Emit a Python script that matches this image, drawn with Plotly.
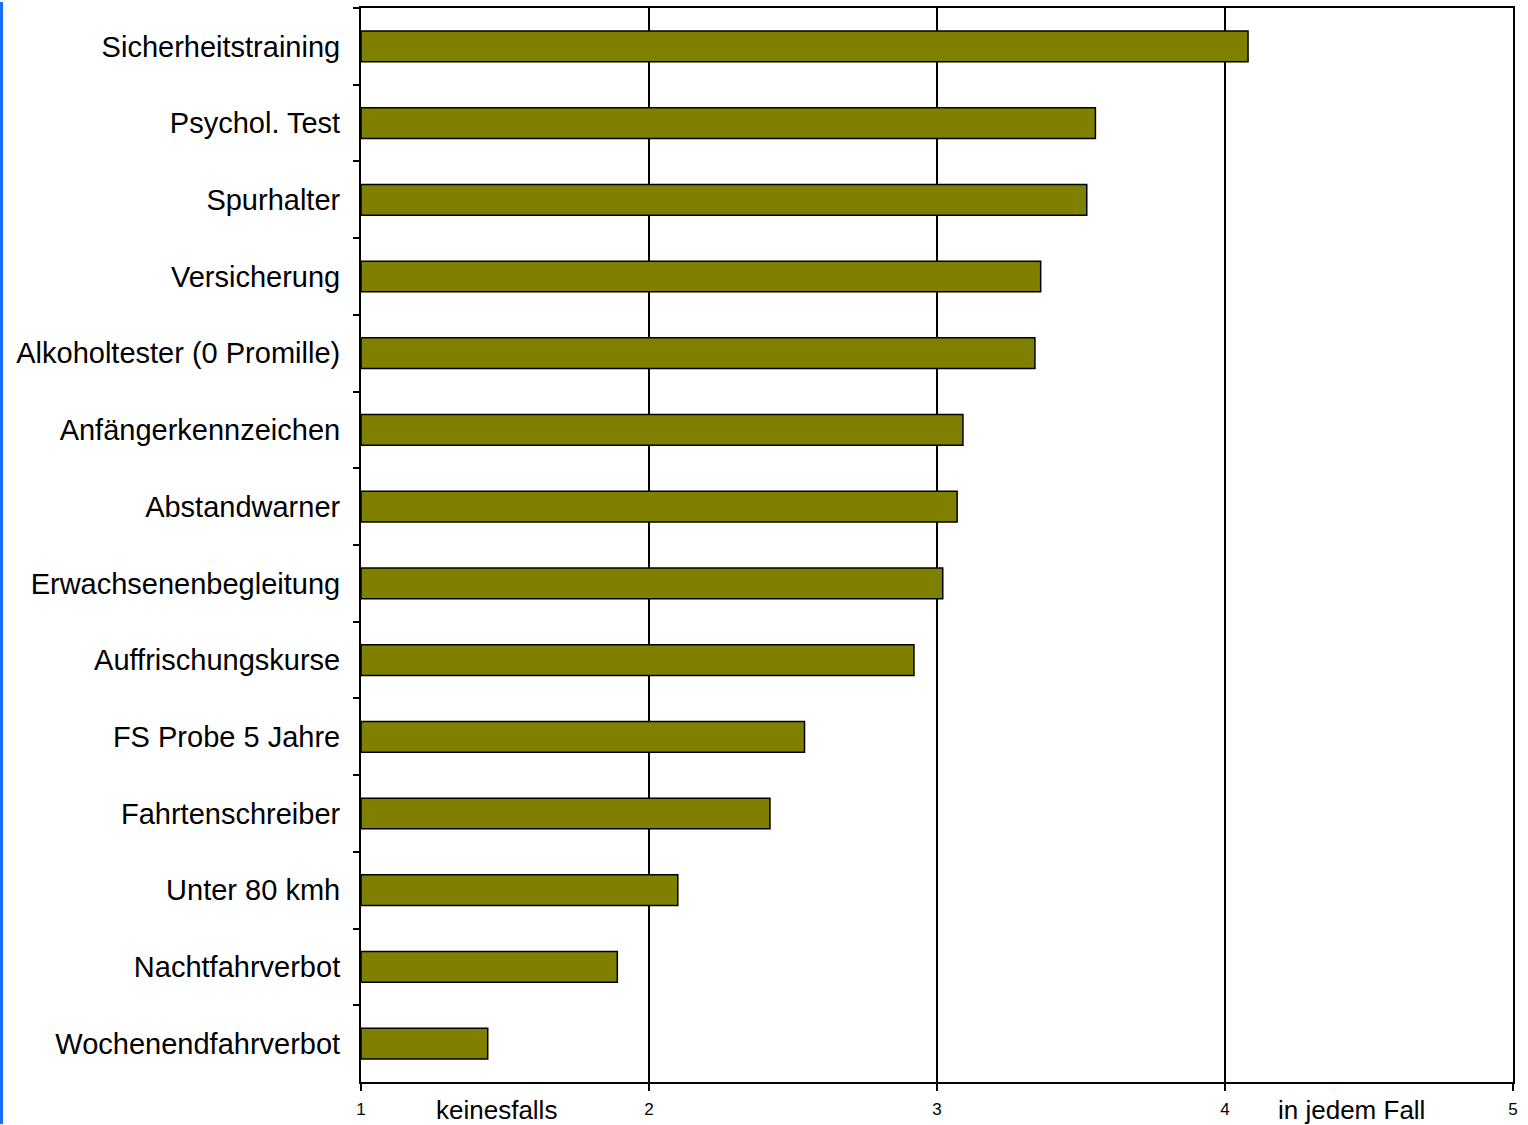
import plotly.graph_objects as go

# Zustimmung zu Maßnahmen (1 = keinesfalls, 5 = in jedem Fall)
massnahmen = [
    "Sicherheitstraining",
    "Psychol. Test",
    "Spurhalter",
    "Versicherung",
    "Alkoholtester (0 Promille)",
    "Anfängerkennzeichen",
    "Abstandwarner",
    "Erwachsenenbegleitung",
    "Auffrischungskurse",
    "FS Probe 5 Jahre",
    "Fahrtenschreiber",
    "Unter 80 kmh",
    "Nachtfahrverbot",
    "Wochenendfahrverbot",
]
mittelwerte = [4.08, 3.55, 3.52, 3.36, 3.34, 3.09, 3.07, 3.02, 2.92, 2.54, 2.42, 2.10, 1.89, 1.44]
skala_ticks = [1, 2, 3, 4, 5]
skala_enden = {"keinesfalls": 1.47, "in jedem Fall": 4.44}

W, H = 1528, 1125
L, R, T, B = 361, 15, 6, 42
FONT = "Liberation Sans, Arial, sans-serif"

fig = go.Figure()
fig.add_trace(go.Bar(
    x=[v - 1 for v in mittelwerte],
    base=1,
    y=massnahmen,
    orientation="h",
    width=0.4,
    marker=dict(color="#808000", line=dict(color="black", width=1.5)),
    hoverinfo="x+y",
))

for text, xv in skala_enden.items():
    fig.add_annotation(
        x=xv, xref="x", y=-(1111 - (H - B)) / (H - T - B), yref="paper",
        text=text, showarrow=False, yanchor="middle",
        font=dict(family=FONT, size=26, color="black"),
    )

# blue edge line at the far left of the page
pw = W - L - R
fig.add_shape(type="rect", xref="paper", yref="paper",
              x0=(0 - L) / pw, x1=(3 - L) / pw, y0=-B / (H - T - B), y1=1 + T / (H - T - B),
              fillcolor="#1a6eff", line=dict(width=0), layer="above")

fig.update_layout(
    width=W, height=H,
    margin=dict(l=L, r=R, t=T, b=B),
    plot_bgcolor="white", paper_bgcolor="white",
    showlegend=False,
    font=dict(family=FONT, color="black"),
)
fig.update_xaxes(
    range=[1, 5], tickvals=skala_ticks, ticktext=[str(t) for t in skala_ticks],
    showgrid=True, gridcolor="black", gridwidth=1.5,
    showline=True, linecolor="black", linewidth=2, mirror=True,
    ticks="outside", ticklen=7, tickwidth=1.5, tickcolor="black",
    tickfont=dict(family=FONT, size=17), ticklabelstandoff=4, zeroline=False,
)
fig.update_yaxes(
    categoryorder="array", categoryarray=massnahmen, autorange="reversed",
    showline=True, linecolor="black", linewidth=2, mirror=True,
    ticks="outside", ticklen=6, tickwidth=1.5, tickcolor="black",
    tickson="boundaries", showgrid=False,
    tickfont=dict(family=FONT, size=29), ticklabelstandoff=13,
)

fig.write_html("out.html")
